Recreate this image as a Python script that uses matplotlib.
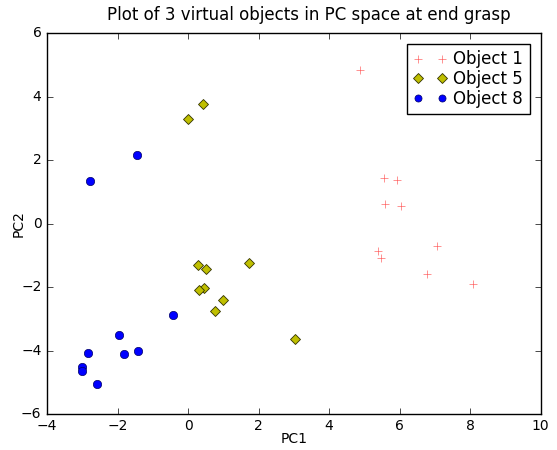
import matplotlib
matplotlib.use('Agg')
import matplotlib.pyplot as plt

plt.style.use('classic')
plt.rcParams['font.family'] = ['DejaVu Sans']

# PC1 / PC2 coordinates
obj1_pc1 = [4.87, 5.55, 5.93, 5.58, 6.05, 5.38, 5.48, 7.05, 6.78, 8.07]
obj1_pc2 = [4.82, 1.44, 1.38, 0.62, 0.57, -0.86, -1.09, -0.71, -1.57, -1.90]

obj5_pc1 = [0.01, 0.43, 0.27, 0.51, 1.74, 0.45, 0.32, 0.99, 0.76, 3.02]
obj5_pc2 = [3.30, 3.77, -1.30, -1.43, -1.25, -2.02, -2.10, -2.39, -2.74, -3.62]

obj8_pc1 = [-1.45, -2.78, -0.44, -1.97, -2.83, -1.83, -1.43, -3.00, -3.00, -2.59]
obj8_pc2 = [2.16, 1.33, -2.87, -3.50, -4.08, -4.10, -4.00, -4.51, -4.63, -5.04]

labels = ['Object 1', 'Object 5', 'Object 8']

fig = plt.figure(figsize=(5.57, 4.5), dpi=100, facecolor='white')
ax = fig.add_axes([0.0844, 0.079, 0.8863, 0.8477])

ax.plot(obj1_pc1, obj1_pc2, 'r+', markersize=6, alpha=0.6, label=labels[0])
ax.plot(obj5_pc1, obj5_pc2, 'yD', markersize=5.5, markeredgecolor='#333300', markeredgewidth=0.6, label=labels[1])
ax.plot(obj8_pc1, obj8_pc2, 'bo', markersize=6, markeredgecolor='#000066', markeredgewidth=0.5, label=labels[2])

ax.set_xlim(-4, 10)
ax.set_ylim(-6, 6)
ax.set_xlabel('PC1', fontsize=10)
ax.set_ylabel('PC2', fontsize=10)
ax.xaxis.set_label_coords(0.5, -0.047)
ax.yaxis.set_label_coords(-0.043, 0.5)
ax.set_title('Plot of 3 virtual objects in PC space at end grasp', fontsize=12, x=0.53, pad=9)
ax.tick_params(labelsize=10)
ax.tick_params(axis='x', pad=3)
ax.legend(loc='upper right', numpoints=2, fontsize=12, handletextpad=0.4, handlelength=2.0,
          labelspacing=0.1, borderaxespad=0.65, markerscale=0.85)

fig.savefig('out.png', dpi=100, facecolor='white')
